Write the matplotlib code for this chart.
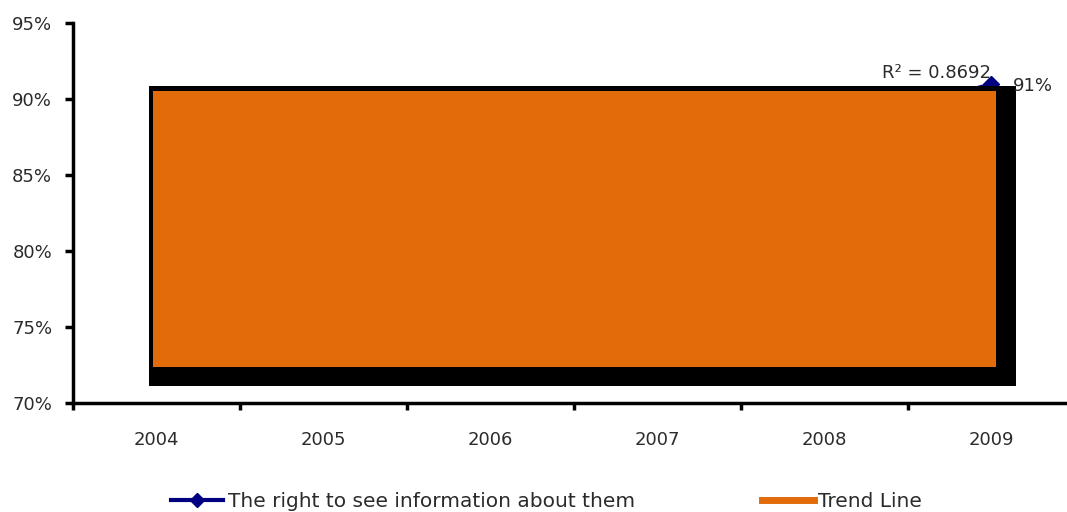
import matplotlib
matplotlib.use("Agg")
import matplotlib.pyplot as plt
from matplotlib.patches import Rectangle
from matplotlib.lines import Line2D

years = ["2004", "2005", "2006", "2007", "2008", "2009"]
# share of respondents; only the 2009 point is labelled
right_to_see = [75, 78, 82, 84, 88, 91]
trend_start, trend_end = 72.4, 90.5
r_squared = 0.8692

NAVY = "#000080"
ORANGE = "#E36C0A"
TEXT = "#2b2b2b"

plt.rcParams["font.family"] = ["DejaVu Sans"]

fig = plt.figure(figsize=(10.67, 5.12), dpi=100)
fig.patch.set_facecolor("white")
ax = fig.add_axes([0.0684, 0.2129, 0.939, 0.742])
ax.set_facecolor("white")

x = list(range(len(years)))
ax.plot(x, right_to_see, color=NAVY, linewidth=2.5, marker="D", markersize=8,
        markevery=[len(x) - 1], zorder=2, clip_on=False)

# trend line rendered as a filled block with a dark drop shadow
x0, x1 = x[0], x[-1]
ax.add_patch(Rectangle((x0 - 0.045, trend_start - 1.25), (x1 - x0) + 0.195,
                       (trend_end - trend_start) + 1.6, facecolor="black",
                       edgecolor="none", zorder=3))
ax.add_patch(Rectangle((x0 - 0.021, trend_start), (x1 - x0) + 0.051,
                       trend_end - trend_start, facecolor=ORANGE,
                       edgecolor="none", zorder=4))

ax.text(x[-1] + 0.13, right_to_see[-1] - 0.15, f"{right_to_see[-1]}%",
        fontsize=13, color=TEXT, ha="left", va="center", zorder=6)
ax.text(x[-1] - 0.33, right_to_see[-1] + 0.7, f"R² = {r_squared}",
        fontsize=13, color=TEXT, ha="center", va="center", zorder=6)

ax.set_xlim(-0.5, len(years) - 0.5)
ax.set_ylim(70, 95)
ax.set_yticks([70, 75, 80, 85, 90, 95])
ax.set_yticklabels([f"{v}%" for v in [70, 75, 80, 85, 90, 95]], fontsize=13, color=TEXT)
ax.set_xticks(x)
ax.set_xticklabels(years, fontsize=13, color=TEXT)
ax.set_xticks([i - 0.5 for i in range(len(years) + 1)], minor=True)

ax.tick_params(axis="x", which="major", length=0, pad=20)
ax.tick_params(axis="x", which="minor", length=5, width=2.5, direction="out")
ax.tick_params(axis="y", length=6, width=2.5, direction="out", pad=9)

for side in ["top", "right"]:
    ax.spines[side].set_visible(False)
for side in ["left", "bottom"]:
    ax.spines[side].set_linewidth(2.5)
    ax.spines[side].set_color("black")

handles = [
    Line2D([], [], color=NAVY, linewidth=3, marker="D", markersize=7),
    Line2D([], [], color=ORANGE, linewidth=5),
]
fig.legend(handles, ["The right to see information about them", "Trend Line"],
           loc="lower left", bbox_to_anchor=(0.1434, -0.034), ncol=2,
           frameon=False, fontsize=14.5, handlelength=2.6, handletextpad=0.2,
           columnspacing=6.3, labelcolor=TEXT)

fig.savefig("out.png", dpi=100, facecolor="white")
plt.close(fig)
